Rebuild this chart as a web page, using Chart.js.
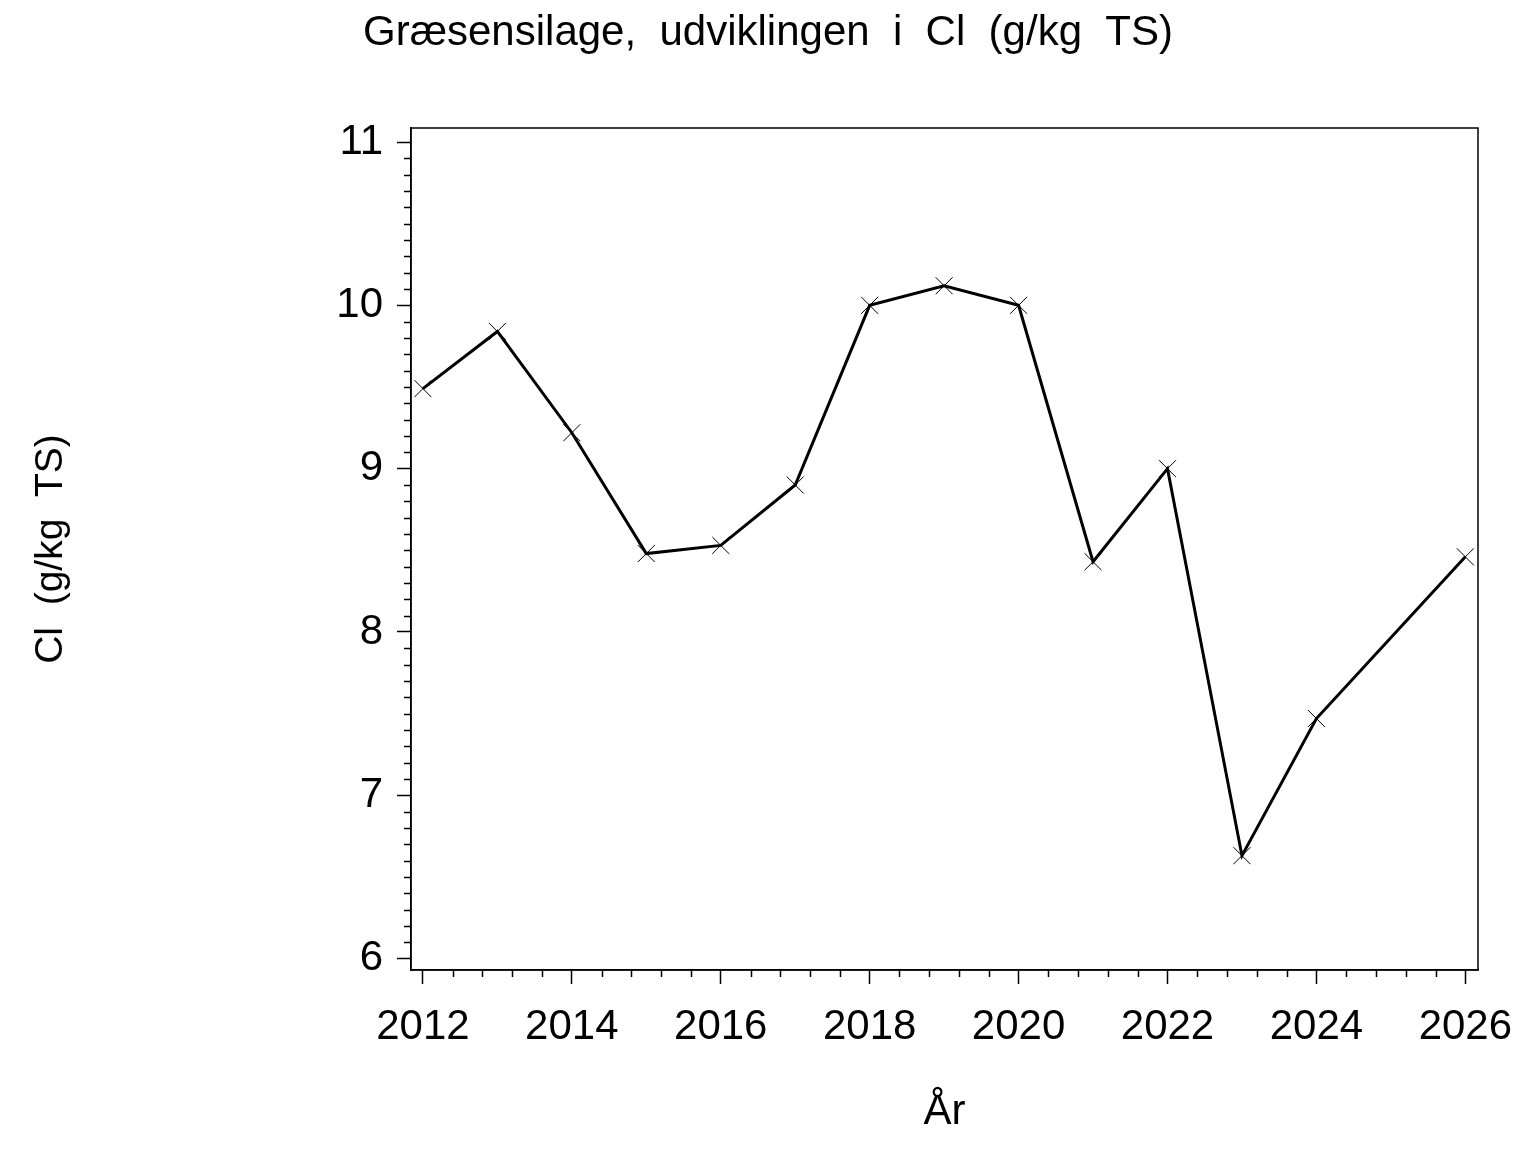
<!DOCTYPE html>
<html>
<head>
<meta charset="utf-8">
<script src="https://cdn.jsdelivr.net/npm/chart.js@4.4.1/dist/chart.umd.min.js"></script>
<style>
  html, body { margin: 0; padding: 0; background: #fff; }
  #wrap { width: 1536px; height: 1152px; }
</style>
</head>
<body>
<div id="wrap"><canvas id="chart"></canvas></div>
<script>
// --- data ---
const years = [2012, 2013, 2014, 2015, 2016, 2017, 2018, 2019, 2020, 2021, 2022, 2023, 2024, 2026];
const clValues = [9.49, 9.84, 9.22, 8.48, 8.53, 8.90, 10.00, 10.12, 10.00, 8.43, 9.00, 6.63, 7.47, 8.46];
const xTicks = [2012, 2014, 2016, 2018, 2020, 2022, 2024, 2026];
const yTicks = [6, 7, 8, 9, 10, 11];

const chartTitle = 'Græsensilage,  udviklingen  i  Cl  (g/kg  TS)';
const xTitle = 'År';
const yTitle = 'Cl  (g/kg  TS)';

Chart.defaults.font.family = "'Liberation Sans', Arial, sans-serif";
Chart.defaults.color = '#000';

// frame round the plot area + small minor ticks outside it
const frameAndMinorTicks = {
    id: 'frameAndMinorTicks',
    afterDraw(chart) {
        const { ctx, chartArea: a, scales: { x, y } } = chart;
        ctx.save();
        ctx.strokeStyle = '#000';
        ctx.lineWidth = 1.5;
        ctx.strokeRect(a.left, a.top, a.right - a.left, a.bottom - a.top);

        ctx.beginPath();
        // y: every 0.1
        for (let i = 60; i < 110; i++) {
            if (i % 10 === 0) continue;
            const py = Math.round(y.getPixelForValue(i / 10)) + 0.5;
            ctx.moveTo(a.left - 7, py);
            ctx.lineTo(a.left, py);
        }
        // x: every 0.4 year
        for (let i = 0; i < 35; i++) {
            if (i % 5 === 0) continue;
            const px = Math.round(x.getPixelForValue(2012 + i * 0.4)) + 0.5;
            ctx.moveTo(px, a.bottom);
            ctx.lineTo(px, a.bottom + 7);
        }
        ctx.stroke();
        ctx.restore();
    }
};

new Chart(document.getElementById('chart'), {
    type: 'line',
    data: {
        datasets: [{
            data: years.map((yr, i) => ({ x: yr, y: clValues[i] })),
            borderColor: '#000',
            borderWidth: 3,
            tension: 0,
            fill: false,
            pointStyle: 'crossRot',
            pointRadius: 12,
            pointBorderWidth: 1,
            pointBorderColor: '#000',
            pointBackgroundColor: '#000'
        }]
    },
    options: {
        responsive: true,
        maintainAspectRatio: false,
        animation: false,
        devicePixelRatio: 1,
        layout: { padding: 0 },
        plugins: {
            legend: { display: false },
            tooltip: { enabled: false },
            title: {
                display: true,
                text: chartTitle,
                color: '#000',
                font: { size: 42, weight: 'normal' },
                padding: { top: 8, bottom: 69.6 }
            }
        },
        scales: {
            x: {
                type: 'linear',
                min: 2011.84,
                max: 2026.17,
                afterBuildTicks: s => { s.ticks = xTicks.map(v => ({ value: v })); },
                afterFit: s => { s.height = 182; },
                grid: { drawOnChartArea: false, tickLength: 14, tickColor: '#000', tickWidth: 1.5 },
                border: { color: '#000', width: 1.5 },
                ticks: {
                    color: '#000',
                    font: { size: 42 },
                    padding: 18,
                    maxRotation: 0,
                    autoSkip: false,
                    callback: v => String(v)
                },
                title: {
                    display: true,
                    text: xTitle,
                    color: '#000',
                    font: { size: 42 },
                    padding: { top: 0, bottom: 14 }
                }
            },
            y: {
                min: 5.93,
                max: 11.086,
                afterBuildTicks: s => { s.ticks = yTicks.map(v => ({ value: v })); },
                afterFit: s => { s.width = 411; },
                grid: { drawOnChartArea: false, tickLength: 14, tickColor: '#000', tickWidth: 1.5 },
                border: { color: '#000', width: 1.5 },
                ticks: {
                    color: '#000',
                    font: { size: 42 },
                    padding: 14,
                    callback: v => String(v)
                },
                title: {
                    display: true,
                    text: yTitle,
                    color: '#000',
                    font: { size: 39 },
                    padding: { top: 28, bottom: 0 }
                }
            },
            // empty right-hand box: keeps white space right of the frame
            // while the title stays centred on the whole page
            yRight: {
                position: 'right',
                afterFit: s => { s.width = 58; },
                grid: { display: false },
                border: { display: false },
                ticks: { display: false }
            }
        }
    },
    plugins: [frameAndMinorTicks]
});
</script>
</body>
</html>
